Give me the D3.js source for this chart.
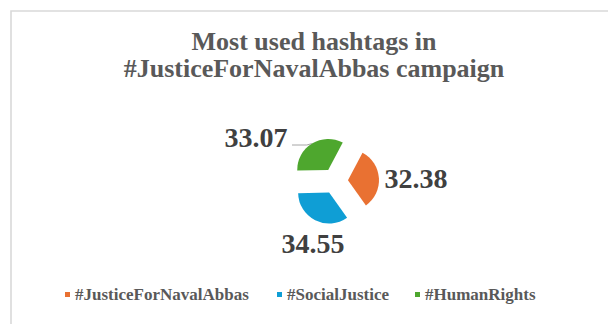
<!DOCTYPE html>
<html>
<head>
<meta charset="utf-8">
<script src="https://cdn.jsdelivr.net/npm/d3@7"></script>
<style>
  html, body { margin: 0; padding: 0; background: #fff; }
  svg { display: block; }
</style>
</head>
<body>
<svg id="chart" width="608" height="324"></svg>
<script>
// Hashtag shares (%)
const categories = ["#JusticeForNavalAbbas", "#SocialJustice", "#HumanRights"];
const values = [32.38, 34.55, 33.07];
const colors = ["#E97132", "#0F9ED5", "#4EA72E"];
const titleLines = ["Most used hashtags in", "#JusticeForNavalAbbas campaign"];

const svg = d3.select("#chart");
const W = 608, H = 324;
const serif = "'Liberation Serif', 'Times New Roman', serif";

// chart area frame (open to the right and bottom edge)
svg.append("path")
  .attr("d", `M11,${H + 2} V11 H${W + 2}`)
  .attr("fill", "none")
  .attr("stroke", "#d9d9d9")
  .attr("stroke-width", 1.6);

// title
svg.append("text")
  .attr("x", 314).attr("y", 50)
  .attr("text-anchor", "middle")
  .attr("font-family", serif).attr("font-weight", "bold")
  .attr("font-size", 26).attr("fill", "#595959")
  .selectAll("tspan").data(titleLines).join("tspan")
  .attr("x", 314)
  .attr("dy", (d, i) => i === 0 ? 0 : 27)
  .text(d => d);

// exploded pie
const cx = 335, cy = 181, radius = 31, explode = 13;
const startAngle = 28 * Math.PI / 180;
const pie = d3.pie().sort(null).value(d => d)
  .startAngle(startAngle).endAngle(startAngle + 2 * Math.PI);
const arcs = pie(values);
const arc = d3.arc().innerRadius(0).outerRadius(radius);
const mid = a => (a.startAngle + a.endAngle) / 2;
const offset = (a, r) => [Math.sin(mid(a)) * r, -Math.cos(mid(a)) * r];

const g = svg.append("g").attr("transform", `translate(${cx},${cy})`);
g.selectAll("path.slice").data(arcs).join("path")
  .attr("class", "slice")
  .attr("transform", d => `translate(${offset(d, explode)})`)
  .attr("d", arc)
  .attr("fill", (d, i) => colors[i]);

// data label centres, relative to the pie centre
const labelPos = [[81, -3], [-22, 62], [-79, -44]];
const fmt = d3.format(".2f");
arcs.forEach((a, i) => {
  g.append("text")
    .attr("x", labelPos[i][0])
    .attr("y", labelPos[i][1])
    .attr("dy", "0.35em")
    .attr("text-anchor", "middle")
    .attr("font-family", serif).attr("font-weight", "bold")
    .attr("font-size", 28).attr("fill", "#404040")
    .text(fmt(a.data));
});

// leader line for the label that sits away from its slice
{
  const a = arcs[2];
  const ang = 328 * Math.PI / 180;
  const [ex, ey] = offset(a, explode);
  const px = ex + Math.sin(ang) * radius, py = ey - Math.cos(ang) * radius;
  g.append("path")
    .attr("d", `M${292 - cx},${145 - cy} H${px - 5} L${px},${py}`)
    .attr("fill", "none")
    .attr("stroke", "#a6a6a6")
    .attr("stroke-width", 1);
}

// legend
const legendX = [65, 277, 415];
const lg = svg.append("g").attr("font-family", serif).attr("font-weight", "bold")
  .attr("font-size", 17).attr("fill", "#595959");
categories.forEach((c, i) => {
  lg.append("rect")
    .attr("x", legendX[i]).attr("y", 292)
    .attr("width", 5).attr("height", 5)
    .attr("fill", colors[i]);
  lg.append("text")
    .attr("x", legendX[i] + 10).attr("y", 300)
    .text(c);
});
</script>
</body>
</html>
